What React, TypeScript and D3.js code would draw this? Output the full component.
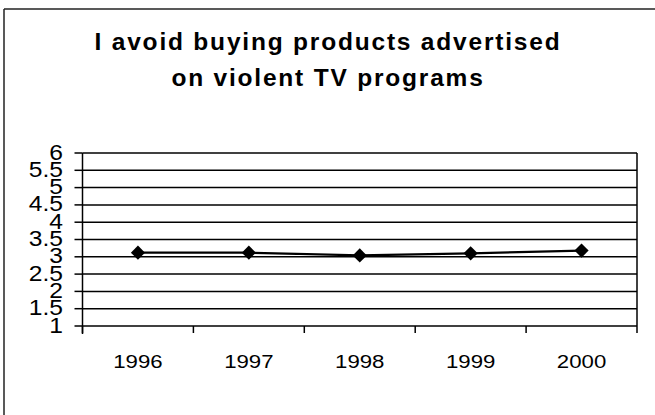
import React from "react";
import * as d3 from "d3";

const years = ["1996", "1997", "1998", "1999", "2000"];
const values = [3.12, 3.12, 3.04, 3.1, 3.18];
const yTicks = [1, 1.5, 2, 2.5, 3, 3.5, 4, 4.5, 5, 5.5, 6];
const yTickLabels = ["1", "1.5", "2", "2.5", "3", "3.5", "4", "4.5", "5", "5.5", "6"];
const titleLines = ["I avoid buying products advertised", "on violent TV programs"];

const W = 655;
const H = 415;
const plot = { left: 82.5, right: 637, top: 153, bottom: 326 };

export default function App() {
  const x = d3.scaleBand<string>().domain(years).range([plot.left, plot.right]).padding(0);
  const y = d3.scaleLinear().domain([1, 6]).range([plot.bottom, plot.top]);
  const cx = (i: number) => (x(years[i]) as number) + x.bandwidth() / 2;
  const line = d3
    .line<number>()
    .x((_, i) => cx(i))
    .y((d) => y(d));
  const marker = d3.symbol().type(d3.symbolSquare).size(100)();
  const font = "Arial, 'Liberation Sans', Helvetica, sans-serif";

  return (
    <div style={{ position: "absolute", left: 0, top: 0 }}>
      <svg width={W} height={H} style={{ display: "block", background: "#fff" }}>
        {/* outer chart border (top & left visible) */}
        <line x1={4} y1={9} x2={W} y2={9} stroke="#222" strokeWidth={1.5} />
        <line x1={4} y1={9} x2={4} y2={H} stroke="#222" strokeWidth={1.5} />

        {/* title */}
        {titleLines.map((t, i) => (
          <text
            key={i}
            x={328}
            y={50 + i * 36}
            textAnchor="middle"
            fontFamily={font}
            fontWeight="bold"
            fontSize={24.5}
            letterSpacing={1.8}
            fill="#000"
          >
            {t}
          </text>
        ))}

        {/* gridlines */}
        {yTicks.map((v) => (
          <line
            key={"g" + v}
            x1={plot.left}
            x2={plot.right}
            y1={y(v)}
            y2={y(v)}
            stroke="#000"
            strokeWidth={1.5}
          />
        ))}
        {/* right plot border */}
        <line x1={plot.right} x2={plot.right} y1={plot.top} y2={plot.bottom} stroke="#000" strokeWidth={1.5} />

        {/* y axis */}
        <line x1={plot.left} x2={plot.left} y1={plot.top} y2={plot.bottom + 8} stroke="#000" strokeWidth={1.5} />
        {yTicks.map((v, i) => (
          <g key={"yt" + v}>
            <line x1={plot.left - 8} x2={plot.left} y1={y(v)} y2={y(v)} stroke="#000" strokeWidth={1.5} />
            <text
              transform={`translate(63, ${y(v) - 1}) scale(1.12,1)`}
              textAnchor="end"
              dominantBaseline="central"
              fontFamily={font}
              fontSize={22}
              fill="#000"
            >
              {yTickLabels[i]}
            </text>
          </g>
        ))}

        {/* x axis ticks */}
        {years.concat(["end"]).map((yr, i) => {
          const xx = i < years.length ? (x(yr) as number) : plot.right;
          return (
            <line key={"xt" + i} x1={xx} x2={xx} y1={plot.bottom} y2={plot.bottom + 7} stroke="#000" strokeWidth={1.5} />
          );
        })}
        {years.map((yr, i) => (
          <text
            key={"xl" + yr}
            transform={`translate(${cx(i)}, 368) scale(1.2,1)`}
            textAnchor="middle"
            fontFamily={font}
            fontSize={18.5}
            fill="#000"
          >
            {yr}
          </text>
        ))}

        {/* series */}
        <path d={line(values) || ""} fill="none" stroke="#000" strokeWidth={2.2} />
        {values.map((v, i) => (
          <path
            key={"m" + i}
            d={marker || ""}
            transform={`translate(${cx(i)}, ${y(v)}) rotate(45)`}
            fill="#000"
          />
        ))}
      </svg>
    </div>
  );
}
